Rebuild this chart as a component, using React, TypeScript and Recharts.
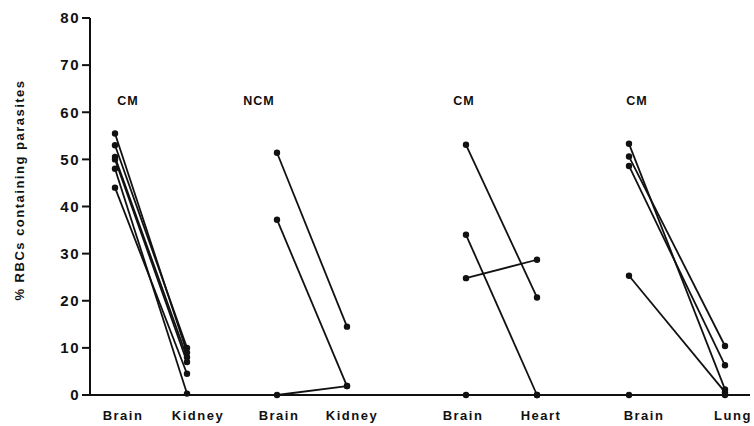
import React from 'react';
import { LineChart, Line, XAxis, YAxis, ReferenceDot, Label } from 'recharts';

// x positions (plot units) of the brain / organ columns, and of their labels
const columnX = [25, 97, 187, 257, 376, 447, 539, 635];
const tickX = [33, 108, 189, 262, 373, 451, 554, 643];
const tickLabels = ['Brain', 'Kidney', 'Brain', 'Kidney', 'Brain', 'Heart', 'Brain', 'Lung'];
const yTicks = [0, 10, 20, 30, 40, 50, 60, 70, 80];

const groupNames = ['CM', 'NCM', 'CM', 'CM'];
const groupLabelX = [38, 169, 374, 547];
const groupLabelY = 62.4;

// % RBCs containing parasites, one entry per patient
const kidneyCmBrain = [55.5, 53, 50.5, 50, 48, 44];
const kidneyCmOrgan = [9, 10, 8, 7, 0.3, 4.5];
const kidneyNcmBrain = [51.4, 37.2, 0];
const kidneyNcmOrgan = [14.5, 1.9, 1.9];
const heartCmBrain = [53.1, 34, 24.8, 0];
const heartCmOrgan = [20.7, 0, 28.7, 0];
const lungCmBrain = [53.3, 50.6, 48.6, 25.3, 0];
const lungCmOrgan = [1.2, 10.4, 6.3, 0.6, 0];

const groups = [
  { brain: kidneyCmBrain, organ: kidneyCmOrgan },
  { brain: kidneyNcmBrain, organ: kidneyNcmOrgan },
  { brain: heartCmBrain, organ: heartCmOrgan },
  { brain: lungCmBrain, organ: lungCmOrgan },
];

const pairs = groups.flatMap((g, gi) =>
  g.brain.map((b, i) => [
    { x: columnX[gi * 2], y: b },
    { x: columnX[gi * 2 + 1], y: g.organ[i] },
  ])
);

const font = '"Liberation Sans", Arial, sans-serif';

const YTitle = () => (
  <text
    x={19}
    y={190}
    transform="rotate(-90 19 190)"
    textAnchor="middle"
    dominantBaseline="central"
    fontFamily={font}
    fontWeight="bold"
    fontSize={13}
    letterSpacing={1.5}
    fill="#111"
  >
    % RBCs containing parasites
  </text>
);

const App: React.FC = () => {
  return (
    <div style={{ position: 'absolute', left: 0, top: 0, background: '#fff' }}>
      <LineChart width={754} height={426} margin={{ top: 18, right: 4, bottom: 0, left: 0 }}>
        <XAxis
          type="number"
          dataKey="x"
          domain={[0, 660]}
          ticks={tickX}
          interval={0}
          tickFormatter={(_v: number, i: number) => tickLabels[i]}
          tickLine={false}
          axisLine={{ stroke: '#111', strokeWidth: 2 }}
          height={31}
          tick={{ fill: '#111', fontFamily: font, fontWeight: 'bold', fontSize: 13, letterSpacing: 1.5 }}
          tickMargin={10}
        />
        <YAxis
          type="number"
          domain={[0, 80]}
          ticks={yTicks}
          width={90}
          axisLine={{ stroke: '#111', strokeWidth: 2 }}
          tickLine={{ stroke: '#111', strokeWidth: 2 }}
          tickSize={8}
          tickMargin={2}
          tick={{ fill: '#111', fontFamily: font, fontWeight: 'bold', fontSize: 15, letterSpacing: 1.5 }}
        >
          <Label content={<YTitle />} />
        </YAxis>
        {pairs.map((p, i) => (
          <Line
            key={i}
            data={p}
            dataKey="y"
            stroke="#111"
            strokeWidth={1.8}
            dot={{ r: 3.2, fill: '#111', stroke: '#111', strokeWidth: 0 }}
            isAnimationActive={false}
          />
        ))}
        {groupNames.map((name, i) => (
          <ReferenceDot
            key={i}
            x={groupLabelX[i]}
            y={groupLabelY}
            r={0}
            fill="none"
            stroke="none"
            label={{
              value: name,
              position: 'center',
              fill: '#111',
              fontFamily: font,
              fontWeight: 'bold',
              fontSize: 12.5,
              letterSpacing: 1,
            }}
          />
        ))}
      </LineChart>
    </div>
  );
};

export default App;
